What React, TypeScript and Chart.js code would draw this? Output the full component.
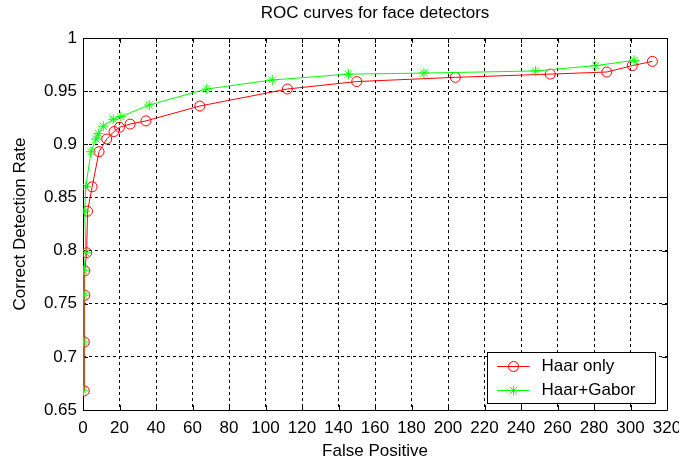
import React, { useEffect, useRef } from 'react';
import { Chart, registerables } from 'chart.js';

Chart.register(...registerables);

const chartTitle = 'ROC curves for face detectors';
const xLabel = 'False Positive';
const yLabel = 'Correct Detection Rate';
const seriesNames = ['Haar only', 'Haar+Gabor'];
const seriesColors = ['rgb(255,0,0)', 'rgb(0,255,0)'];

const haarX = [0.7, 0.7, 1, 1, 2, 2.5, 5, 8.8, 13, 17, 20, 25.8, 34.5, 64, 112, 150, 204, 256, 287, 301, 312];
const haarY = [0.668, 0.714, 0.758, 0.781, 0.798, 0.837, 0.86, 0.893, 0.905, 0.912, 0.916, 0.919, 0.922, 0.936, 0.952, 0.959, 0.963, 0.966, 0.968, 0.974, 0.978];

const gaborX = [0.3, 0.3, 0.5, 0.5, 1.5, 1, 1.5, 4.4, 7.1, 8.4, 11.1, 16.6, 20.8, 36.3, 67.8, 103.7, 145.4, 186.8, 248, 281, 302];
const gaborY = [0.668, 0.714, 0.758, 0.781, 0.798, 0.837, 0.86, 0.893, 0.905, 0.91, 0.917, 0.9235, 0.926, 0.937, 0.952, 0.9605, 0.966, 0.967, 0.969, 0.974, 0.979];

const xTicks = [0, 20, 40, 60, 80, 100, 120, 140, 160, 180, 200, 220, 240, 260, 280, 300, 320];
const yTicks = [0.65, 0.7, 0.75, 0.8, 0.85, 0.9, 0.95, 1];

const FONT = "'Liberation Sans', Arial, Helvetica, sans-serif";
const FS = 17;

function drawMarker(ctx: CanvasRenderingContext2D, style: string, x: number, y: number, r: number, color: string) {
  ctx.save();
  ctx.strokeStyle = color;
  ctx.lineWidth = 1;
  ctx.beginPath();
  if (style === 'circle') {
    ctx.arc(x, y, r, 0, Math.PI * 2);
  } else {
    ctx.moveTo(x - r, y); ctx.lineTo(x + r, y);
    ctx.moveTo(x, y - r); ctx.lineTo(x, y + r);
    const d = r * Math.SQRT1_2;
    ctx.moveTo(x - d, y - d); ctx.lineTo(x + d, y + d);
    ctx.moveTo(x - d, y + d); ctx.lineTo(x + d, y - d);
  }
  ctx.stroke();
  ctx.restore();
}

const framePlugin = {
  id: 'frame',
  beforeDatasetsDraw(chart: any) {
    const { ctx, chartArea: a, scales } = chart;
    ctx.save();
    ctx.strokeStyle = '#000';
    ctx.lineWidth = 1;
    ctx.beginPath();
    ctx.rect(Math.round(a.left) + 0.5, Math.round(a.top) + 0.5, Math.round(a.right - a.left), Math.round(a.bottom - a.top));
    ctx.stroke();
    const tl = 5;
    ctx.beginPath();
    scales.x.ticks.forEach((t: any) => {
      const px = Math.round(scales.x.getPixelForValue(t.value)) + 0.5;
      ctx.moveTo(px, a.bottom); ctx.lineTo(px, a.bottom - tl);
      ctx.moveTo(px, a.top); ctx.lineTo(px, a.top + tl);
    });
    scales.y.ticks.forEach((t: any) => {
      const py = Math.round(scales.y.getPixelForValue(t.value)) + 0.5;
      ctx.moveTo(a.left, py); ctx.lineTo(a.left + tl, py);
      ctx.moveTo(a.right, py); ctx.lineTo(a.right - tl, py);
    });
    ctx.stroke();
    ctx.restore();
  },
  afterDraw(chart: any) {
    const { ctx, chartArea: a } = chart;
    ctx.save();
    ctx.fillStyle = '#000';
    ctx.font = `${FS}px ${FONT}`;
    ctx.textAlign = 'center';
    ctx.textBaseline = 'middle';
    ctx.fillText(chartTitle, (a.left + a.right) / 2, 13);

    const w = 168, h = 51;
    const left = Math.round(a.right - 12 - w) + 0.5;
    const top = Math.round(a.bottom - 7 - h) + 0.5;
    ctx.fillStyle = '#fff';
    ctx.fillRect(left, top, w, h);
    ctx.strokeStyle = '#000';
    ctx.lineWidth = 1;
    ctx.strokeRect(left, top, w, h);
    const styles = ['circle', 'star'];
    seriesNames.forEach((name, i) => {
      const y = Math.round(top + 13 + i * 24.5) + 0.5;
      ctx.strokeStyle = seriesColors[i];
      ctx.beginPath();
      ctx.moveTo(left + 9.5, y);
      ctx.lineTo(left + 42, y);
      ctx.stroke();
      drawMarker(ctx, styles[i], left + 26, y, 5, seriesColors[i]);
      ctx.fillStyle = '#000';
      ctx.font = `${FS}px ${FONT}`;
      ctx.textAlign = 'left';
      ctx.textBaseline = 'middle';
      ctx.fillText(name, left + 54, y);
    });
    ctx.restore();
  },
};

export default function App() {
  const ref = useRef<HTMLCanvasElement | null>(null);
  useEffect(() => {
    document.body.style.margin = '0';
    const canvas = ref.current;
    if (!canvas) return;
    const chart = new Chart(canvas, {
      type: 'scatter',
      data: {
        datasets: [
          {
            label: seriesNames[0],
            data: haarX.map((x, i) => ({ x, y: haarY[i] })),
            showLine: true,
            borderColor: seriesColors[0],
            backgroundColor: 'rgba(0,0,0,0)',
            borderWidth: 1,
            pointStyle: 'circle',
            pointRadius: 5,
            pointBorderWidth: 1,
            pointBorderColor: seriesColors[0],
            pointBackgroundColor: 'rgba(0,0,0,0)',
            tension: 0,
            order: 1,
          },
          {
            label: seriesNames[1],
            data: gaborX.map((x, i) => ({ x, y: gaborY[i] })),
            showLine: true,
            borderColor: seriesColors[1],
            backgroundColor: 'rgba(0,0,0,0)',
            borderWidth: 1,
            pointStyle: 'star',
            pointRadius: 5,
            pointBorderWidth: 1,
            pointBorderColor: seriesColors[1],
            pointBackgroundColor: seriesColors[1],
            tension: 0,
            order: 0,
          },
        ],
      },
      options: {
        responsive: false,
        animation: false,
        events: [],
        layout: { padding: { top: 38, right: 12, left: 0, bottom: 0 } },
        plugins: {
          legend: { display: false },
          title: { display: false },
          tooltip: { enabled: false },
        },
        scales: {
          x: {
            type: 'linear',
            min: 0,
            max: 320,
            afterBuildTicks: (s: any) => { s.ticks = xTicks.map((v) => ({ value: v })); },
            afterFit: (s: any) => { s.height = 53; s.paddingLeft = 0; s.paddingRight = 0; },
            ticks: {
              color: '#000',
              font: { family: FONT, size: FS },
              padding: 8,
              maxRotation: 0,
              autoSkip: false,
              callback: (v: any) => String(v),
            },
            grid: { color: '#000', lineWidth: 1, drawTicks: false },
            border: { display: false, dash: [3, 3] },
            title: {
              display: true,
              text: xLabel,
              color: '#000',
              font: { family: FONT, size: FS },
              padding: { top: 0, bottom: 1 },
            },
          },
          y: {
            type: 'linear',
            min: 0.65,
            max: 1,
            afterBuildTicks: (s: any) => { s.ticks = yTicks.map((v) => ({ value: v })); },
            afterFit: (s: any) => { s.width = 83; s.paddingTop = 0; s.paddingBottom = 0; },
            ticks: {
              color: '#000',
              font: { family: FONT, size: FS },
              padding: 6,
              autoSkip: false,
              callback: (v: any) => String(+Number(v).toFixed(2)),
            },
            grid: { color: '#000', lineWidth: 1, drawTicks: false },
            border: { display: false, dash: [3, 3] },
            title: {
              display: true,
              text: yLabel,
              color: '#000',
              font: { family: FONT, size: FS },
              padding: { top: 10, bottom: 0 },
            },
          },
        },
      } as any,
      plugins: [framePlugin],
    });
    return () => chart.destroy();
  }, []);
  return <canvas ref={ref} width={679} height={463} style={{ display: 'block' }} />;
}
